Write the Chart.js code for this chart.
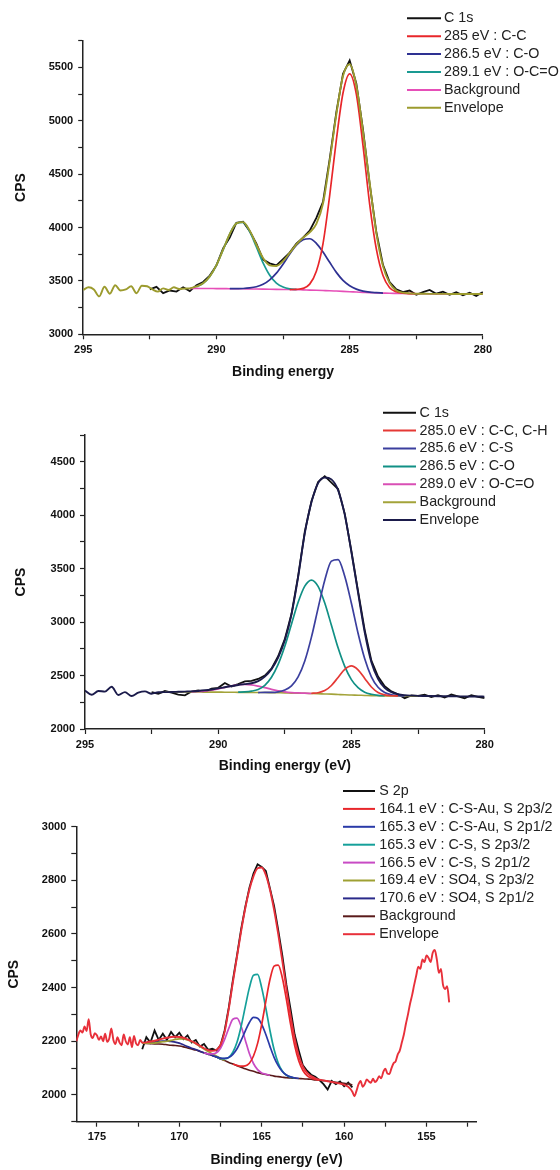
<!DOCTYPE html>
<html>
<head>
<meta charset="utf-8">
<script src="https://cdn.jsdelivr.net/npm/chart.js@4.4.1/dist/chart.umd.min.js"></script>
<style>
  html, body { margin: 0; padding: 0; background: #fff; }
  canvas { position: absolute; left: 0; }
</style>
</head>
<body>
<canvas id="c1s-a" width="560" height="385" style="top:0"></canvas>
<canvas id="c1s-b" width="560" height="390" style="top:385px"></canvas>
<canvas id="s2p" width="560" height="395" style="top:775px"></canvas>
<script>
// ---- panel 1 : C 1s ----
const p1GridX = [291, 290.75, 290.5, 290.25, 290, 289.75, 289.5, 289.25, 289, 288.75, 288.5, 288.25, 288, 287.75, 287.5, 287.25, 287, 286.75, 286.5, 286.25, 286, 285.75, 285.5, 285.25, 285, 284.75, 284.5, 284.25, 284, 283.75, 283.5, 283.25, 283, 282.75, 282.5, 282.25, 282, 281.75, 281.5, 281.25, 281, 280.75, 280.5, 280.25, 280];
const p1Envelope = [3430, 3448, 3478, 3542, 3648, 3792, 3939, 4039, 4051, 3971, 3839, 3714, 3645, 3640, 3685, 3762, 3842, 3905, 3955, 4035, 4225, 4620, 5060, 5420, 5530, 5330, 4900, 4420, 3950, 3640, 3480, 3410, 3390, 3383, 3380, 3380, 3379, 3379, 3379, 3378, 3378, 3378, 3378, 3378, 3378];
const p1Background = [3430, 3430, 3429, 3429, 3428, 3428, 3427, 3427, 3426, 3425, 3424, 3423, 3422, 3421, 3420, 3419, 3418, 3416, 3414, 3412, 3410, 3408, 3405, 3402, 3399, 3396, 3393, 3390, 3388, 3386, 3384, 3383, 3382, 3381, 3380, 3380, 3379, 3379, 3379, 3378, 3378, 3378, 3378, 3378, 3378];
const p1Teal = [3446, 3477, 3541, 3648, 3791, 3939, 4039, 4048, 3962, 3818, 3669, 3553, 3480, 3443, 3426, 3420];
const p1Blue = [3427, 3428, 3429, 3434, 3445, 3468, 3510, 3573, 3657, 3751, 3834, 3885, 3895, 3852, 3770, 3674, 3580, 3505, 3455, 3423, 3405, 3395, 3390, 3386];
const p1Red = [3419, 3421, 3430, 3470, 3590, 3850, 4300, 4820, 5260, 5440, 5250, 4770, 4220, 3800, 3550, 3436, 3398, 3386, 3381, 3380];
const p1EnvNoiseX = [295, 294.8, 294.6, 294.4, 294.2, 294, 293.8, 293.6, 293.4, 293.2, 293, 292.8, 292.6, 292.4, 292.2, 292, 291.8, 291.6, 291.4, 291.2];
const p1EnvNoise = [3415, 3440, 3420, 3355, 3445, 3380, 3460, 3410, 3420, 3450, 3385, 3455, 3450, 3420, 3400, 3430, 3415, 3440, 3425, 3428];
const p1RawX = [292.5, 292.25, 292, 291.75, 291.5, 291.25, 291, 290.75, 290.5, 290.25, 290, 289.75, 289.5, 289.25, 289, 288.75, 288.5, 288.25, 288, 287.75, 287.5, 287.25, 287, 286.75, 286.5, 286.25, 286, 285.75, 285.5, 285.25, 285, 284.75, 284.5, 284.25, 284, 283.75, 283.5, 283.25, 283, 282.75, 282.5, 282.25, 282, 281.75, 281.5, 281.25, 281, 280.75, 280.5, 280.25, 280];
const p1Raw = [3420, 3445, 3385, 3410, 3400, 3440, 3405, 3460, 3490, 3550, 3645, 3805, 3905, 4045, 4055, 3965, 3850, 3700, 3665, 3645, 3705, 3765, 3850, 3905, 3970, 4090, 4240, 4640, 5080, 5440, 5565, 5350, 4920, 4410, 3960, 3650, 3490, 3420, 3395, 3410, 3370, 3395, 3415, 3380, 3400, 3370, 3395, 3365, 3390, 3360, 3395];
const p1XTicks = [280, 282.5, 285, 287.5, 290, 292.5, 295];
const p1XLabels = [280, 285, 290, 295];
const p1YTicks = [3000, 3250, 3500, 3750, 4000, 4250, 4500, 4750, 5000, 5250, 5500, 5750];
const p1YLabels = [3000, 3500, 4000, 4500, 5000, 5500];

// ---- panel 2 : C 1s ----
const p2GridX = [292, 291.75, 291.5, 291.25, 291, 290.75, 290.5, 290.25, 290, 289.75, 289.5, 289.25, 289, 288.75, 288.5, 288.25, 288, 287.75, 287.5, 287.25, 287, 286.75, 286.5, 286.25, 286, 285.75, 285.5, 285.25, 285, 284.75, 284.5, 284.25, 284, 283.75, 283.5, 283.25, 283, 282.75, 282.5, 282.25, 282, 281.75, 281.5, 281.25, 281, 280.75, 280.5, 280.25, 280];
const p2Envelope = [2345, 2346, 2348, 2350, 2352, 2356, 2362, 2370, 2380, 2391, 2402, 2412, 2420, 2428, 2448, 2490, 2560, 2668, 2830, 3070, 3420, 3830, 4120, 4300, 4352, 4335, 4235, 4005, 3655, 3275, 2905, 2625, 2470, 2385, 2345, 2325, 2316, 2312, 2310, 2309, 2308, 2307, 2306, 2306, 2305, 2305, 2304, 2304, 2303];
const p2Background = [2348, 2348, 2347, 2347, 2346, 2346, 2345, 2345, 2345, 2344, 2344, 2343, 2343, 2342, 2341, 2341, 2340, 2339, 2338, 2336, 2335, 2334, 2332, 2330, 2328, 2326, 2323, 2320, 2318, 2316, 2314, 2312, 2311, 2310, 2309, 2308, 2308, 2307, 2307];
const p2Teal = [2345, 2347, 2354, 2370, 2409, 2484, 2604, 2774, 2980, 3185, 3336, 3393, 3334, 3178, 2970, 2759, 2586, 2462, 2386, 2344, 2325, 2315, 2311];
const p2Blue = [2341, 2342, 2342, 2347, 2364, 2403, 2487, 2636, 2859, 3131, 3392, 3570, 3585, 3428, 3176, 2895, 2656, 2488, 2390, 2341, 2320, 2311, 2309];
const p2Red = [2334, 2339, 2359, 2407, 2482, 2558, 2591, 2554, 2473, 2393, 2342, 2319, 2311, 2309];
const p2Magenta = [2348, 2351, 2355, 2364, 2376, 2390, 2404, 2414, 2418, 2413, 2401, 2387, 2371, 2358, 2348, 2341, 2337, 2335, 2332];
const p2EnvNoiseX = [295, 294.75, 294.5, 294.25, 294, 293.75, 293.5, 293.25, 293, 292.75, 292.5, 292.25];
const p2EnvNoise = [2360, 2320, 2355, 2350, 2395, 2318, 2345, 2308, 2340, 2352, 2330, 2344];
const p2RawX = [292.5, 292.25, 292, 291.75, 291.5, 291.25, 291, 290.75, 290.5, 290.25, 290, 289.75, 289.5, 289.25, 289, 288.75, 288.5, 288.25, 288, 287.75, 287.5, 287.25, 287, 286.75, 286.5, 286.25, 286, 285.75, 285.5, 285.25, 285, 284.75, 284.5, 284.25, 284, 283.75, 283.5, 283.25, 283, 282.75, 282.5, 282.25, 282, 281.75, 281.5, 281.25, 281, 280.75, 280.5, 280.25, 280];
const p2Raw = [2345, 2330, 2355, 2340, 2322, 2315, 2350, 2362, 2345, 2378, 2385, 2430, 2398, 2420, 2445, 2450, 2468, 2500, 2565, 2680, 2840, 3075, 3430, 3845, 4130, 4310, 4365, 4305, 4245, 4015, 3665, 3290, 2925, 2640, 2490, 2400, 2352, 2325, 2288, 2315, 2310, 2322, 2298, 2316, 2295, 2322, 2305, 2288, 2316, 2300, 2290];
const p2YTicks = [2000, 2250, 2500, 2750, 3000, 3250, 3500, 3750, 4000, 4250, 4500, 4750];
const p2YLabels = [2000, 2500, 3000, 3500, 4000, 4500];

// ---- panel 3 : S 2p ----
const p3GridX = [172.25, 172, 171.75, 171.5, 171.25, 171, 170.75, 170.5, 170.25, 170, 169.75, 169.5, 169.25, 169, 168.75, 168.5, 168.25, 168, 167.75, 167.5, 167.25, 167, 166.75, 166.5, 166.25, 166, 165.75, 165.5, 165.25, 165, 164.75, 164.5, 164.25, 164, 163.75, 163.5, 163.25, 163, 162.75, 162.5, 162.25, 162, 161.75, 161.5, 161.25, 161, 160.75, 160.5, 160.25, 160, 159.75, 159.5];
const p3Envelope = [2195, 2196, 2199, 2202, 2206, 2210, 2213, 2216, 2217, 2216, 2213, 2207, 2200, 2192, 2183, 2174, 2167, 2164, 2168, 2186, 2235, 2320, 2420, 2515, 2610, 2695, 2765, 2815, 2845, 2848, 2820, 2765, 2690, 2600, 2500, 2395, 2295, 2210, 2145, 2105, 2082, 2070, 2062, 2057, 2054, 2051, 2048, 2045, 2042, 2038, 2030, 2012];
const p3Background = [2193, 2192, 2191, 2190, 2190, 2189, 2187, 2185, 2184, 2182, 2179, 2175, 2171, 2167, 2162, 2157, 2152, 2147, 2141, 2134, 2128, 2121, 2115, 2109, 2103, 2097, 2092, 2088, 2083, 2079, 2076, 2073, 2070, 2068, 2066, 2064, 2063, 2062, 2061, 2060, 2059, 2058, 2056, 2055, 2053, 2052, 2049, 2047, 2045, 2043, 2041, 2038];
const p3Raw = [2170, 2215, 2195, 2240, 2205, 2228, 2205, 2235, 2215, 2232, 2208, 2222, 2195, 2205, 2180, 2190, 2168, 2172, 2165, 2185, 2240, 2325, 2428, 2520, 2618, 2700, 2772, 2825, 2860, 2850, 2835, 2770, 2705, 2615, 2520, 2410, 2320, 2225, 2165, 2110, 2090, 2075, 2068, 2055, 2040, 2020, 2052, 2040, 2050, 2032, 2046, 2028];
const p3Red = [2115, 2110, 2107, 2108, 2118, 2145, 2192, 2263, 2349, 2430, 2480, 2484, 2437, 2355, 2264, 2184, 2126, 2091, 2072, 2063, 2058, 2055];
const p3Blue = [2147, 2142, 2137, 2136, 2139, 2151, 2172, 2203, 2238, 2270, 2289, 2286, 2263, 2225, 2181, 2140, 2109, 2087, 2074, 2067, 2064, 2061];
const p3Teal = [2142, 2136, 2135, 2140, 2159, 2196, 2255, 2328, 2399, 2446, 2449, 2399, 2323, 2240, 2169, 2119, 2089, 2073, 2066, 2063];
const p3Magenta = [2157, 2153, 2153, 2157, 2174, 2207, 2248, 2282, 2286, 2256, 2205, 2154, 2117, 2094, 2082, 2077, 2073];
const p3Olive = [2193, 2193, 2193, 2193, 2196, 2198, 2200, 2203, 2207, 2209, 2209, 2205, 2199, 2191, 2181, 2171, 2162, 2153, 2145, 2136, 2129];
const p3Navy = [2195, 2195, 2196, 2197, 2200, 2201, 2201, 2199, 2197, 2193, 2187, 2180, 2174, 2169, 2163, 2157, 2152, 2147, 2141, 2134];
const p3EnvLeftX = [176.25, 176.125, 176, 175.875, 175.75, 175.625, 175.5, 175.375, 175.25, 175.125, 175, 174.875, 174.75, 174.625, 174.5, 174.375, 174.25, 174.125, 174, 173.875, 173.75, 173.625, 173.5, 173.375, 173.25, 173.125, 173, 172.875, 172.75, 172.625, 172.5, 172.375];
const p3EnvLeft = [2200, 2225, 2240, 2232, 2255, 2238, 2282, 2225, 2212, 2230, 2222, 2205, 2218, 2200, 2228, 2198, 2210, 2248, 2205, 2190, 2215, 2195, 2185, 2225, 2200, 2188, 2215, 2178, 2220, 2192, 2185, 2205];
const p3EnvRightX = [159.375, 159.25, 159.125, 159, 158.875, 158.75, 158.625, 158.5, 158.375, 158.25, 158.125, 158, 157.875, 157.75, 157.625, 157.5, 157.375, 157.25, 157.125, 157, 156.875, 156.75, 156.625, 156.5, 156.375, 156.25, 156.125, 156, 155.875, 155.75, 155.625, 155.5, 155.375, 155.25, 155.125, 155, 154.875, 154.75, 154.625, 154.5, 154.375, 154.25, 154.125, 154, 153.875, 153.75, 153.625];
const p3EnvRight = [1995, 2015, 2040, 2052, 2030, 2040, 2058, 2050, 2045, 2060, 2048, 2055, 2070, 2062, 2085, 2098, 2080, 2078, 2100, 2118, 2125, 2150, 2165, 2195, 2225, 2265, 2300, 2340, 2372, 2410, 2445, 2478, 2470, 2505, 2495, 2520, 2510, 2495, 2530, 2540, 2505, 2455, 2470, 2410, 2395, 2405, 2345];
const p3XTicks = [152.5, 155, 157.5, 160, 162.5, 165, 167.5, 170, 172.5, 175];
const p3XLabels = [155, 160, 165, 170, 175];
const p3YTicks = [1900, 2000, 2100, 2200, 2300, 2400, 2500, 2600, 2700, 2800, 2900, 3000];
const p3YLabels = [2000, 2200, 2400, 2600, 2800, 3000];

//-------------------------------------------------//

const FONT = 'Arial, "Liberation Sans", sans-serif';
Chart.defaults.font.family = FONT;
Chart.defaults.color = '#111';

// pair x grid with y values, starting at grid index `from`
function pts(xs, ys, from) {
    const start = from || 0;
    return ys.map((y, i) => ({x: xs[start + i], y: y}));
}

function series(label, data, color, width, order, smooth) {
    return {
        label: label,
        data: data,
        borderColor: color,
        backgroundColor: color,
        borderWidth: width,
        pointRadius: 0,
        fill: false,
        order: order,
        tension: 0,
        cubicInterpolationMode: smooth ? 'monotone' : 'default'
    };
}

// legend drawn inside the top right corner, like Origin does
const insetLegend = {
    id: 'insetLegend',
    afterDraw(chart, args, opts) {
        const ctx = chart.ctx;
        ctx.save();
        ctx.font = '14.3px ' + FONT;
        ctx.textBaseline = 'middle';
        chart.data.datasets.forEach((ds, i) => {
            const y = opts.top + i * opts.row;
            ctx.strokeStyle = ds.borderColor;
            ctx.lineWidth = 2;
            ctx.beginPath();
            ctx.moveTo(opts.x0, y);
            ctx.lineTo(opts.x1, y);
            ctx.stroke();
            ctx.fillStyle = '#222';
            ctx.fillText(ds.label, opts.textX, y);
        });
        ctx.restore();
    }
};

function buildScales(c) {
    const tickFont = {size: 11, weight: 'bold'};
    const titleFont = {size: 14, weight: 'bold'};
    const grid = {drawOnChartArea: false, drawTicks: true, tickLength: 5, tickWidth: 1.2, tickColor: '#222'};
    const border = {display: true, color: '#222', width: 1.5};
    return {
        x: {
            type: 'linear', position: 'bottom', reverse: true, bounds: 'data',
            min: c.xMin, max: c.xMax,
            afterBuildTicks: s => { s.ticks = c.xTicks.map(v => ({value: v})); },
            afterFit: s => { s.height = c.xHeight; },
            ticks: {autoSkip: false, maxRotation: 0, padding: 4, font: tickFont, color: '#111',
                    callback: v => c.xLabels.includes(v) ? String(v) : ''},
            grid: grid, border: border,
            title: {display: true, text: c.xTitle, font: titleFont, color: '#111',
                    padding: {top: 0, bottom: c.xTitlePad}}
        },
        y: {
            type: 'linear', position: 'left', bounds: 'data',
            min: c.yMin, max: c.yMax,
            afterBuildTicks: s => { s.ticks = c.yTicks.map(v => ({value: v})); },
            afterFit: s => { s.width = c.yWidth; },
            ticks: {autoSkip: false, padding: 5, font: tickFont, color: '#111',
                    callback: v => c.yLabels.includes(v) ? String(v) : ''},
            grid: grid, border: border,
            title: {display: true, text: 'CPS', font: titleFont, color: '#111',
                    padding: {top: c.yTitlePad, bottom: 0}}
        }
    };
}

function makeChart(id, datasets, scaleCfg, padding, legend) {
    return new Chart(document.getElementById(id), {
        type: 'line',
        data: {datasets: datasets},
        options: {
            responsive: false,
            animation: false,
            layout: {padding: padding},
            scales: buildScales(scaleCfg),
            plugins: {legend: {display: false}, tooltip: {enabled: false}, insetLegend: legend}
        },
        plugins: [insetLegend]
    });
}

makeChart('c1s-a', [
    series('C 1s', pts(p1RawX, p1Raw), '#111111', 1.8, 3, false),
    series('285 eV : C-C', pts(p1GridX, p1Red, 15), '#e8262a', 1.7, 1, true),
    series('286.5 eV : C-O', pts(p1GridX, p1Blue, 6), '#2e3192', 1.7, 1, true),
    series('289.1 eV : O-C=O', pts(p1GridX, p1Teal, 1), '#1a9a92', 1.7, 1, true),
    series('Background', pts(p1GridX, p1Background), '#e64fb8', 1.6, 2, true),
    series('Envelope', pts(p1EnvNoiseX, p1EnvNoise).concat(pts(p1GridX, p1Envelope)), '#9c9b2e', 1.9, 0, true)
], {
    xMin: 280, xMax: 295, xTicks: p1XTicks, xLabels: p1XLabels, xHeight: 50.7, xTitle: 'Binding energy', xTitlePad: 4.9,
    yMin: 3000, yMax: 5750, yTicks: p1YTicks, yLabels: p1YLabels, yWidth: 83.2, yTitlePad: 13
}, {top: 40.7, right: 77.1, bottom: 0, left: 0},
{x0: 407, x1: 441, textX: 444, top: 18.3, row: 17.9});

makeChart('c1s-b', [
    series('C 1s', pts(p2RawX, p2Raw), '#111111', 1.8, 3, false),
    series('285.0 eV : C-C, C-H', pts(p2GridX, p2Red, 22), '#e53935', 1.7, 1, true),
    series('285.6 eV : C-S', pts(p2GridX, p2Blue, 14), '#3b3f9e', 1.7, 1, true),
    series('286.5 eV : C-O', pts(p2GridX, p2Teal, 11), '#119085', 1.7, 1, true),
    series('289.0 eV : O-C=O', pts(p2GridX, p2Magenta, 4), '#d94fb5', 1.7, 1, true),
    series('Background', pts(p2GridX, p2Background), '#a3a33a', 1.6, 2, true),
    series('Envelope', pts(p2EnvNoiseX, p2EnvNoise).concat(pts(p2GridX, p2Envelope)), '#1b1b4b', 1.9, 0, true)
], {
    xMin: 280, xMax: 295, xTicks: p1XTicks, xLabels: p1XLabels, xHeight: 46, xTitle: 'Binding energy (eV)', xTitlePad: 0,
    yMin: 2000, yMax: 4750, yTicks: p2YTicks, yLabels: p2YLabels, yWidth: 85, yTitlePad: 13
}, {top: 50, right: 75.4, bottom: 0, left: 0},
{x0: 383, x1: 416, textX: 419.6, top: 27.7, row: 17.9});

makeChart('s2p', [
    series('S 2p', pts(p3GridX, p3Raw), '#111111', 1.8, 3, false),
    series('164.1 eV : C-S-Au, S 2p3/2', pts(p3GridX, p3Red, 22), '#e8262b', 1.7, 1, true),
    series('165.3 eV : C-S-Au, S 2p1/2', pts(p3GridX, p3Blue, 17), '#2a3aa8', 1.7, 1, true),
    series('165.3 eV : C-S, S 2p3/2', pts(p3GridX, p3Teal, 18), '#15a09a', 1.7, 1, true),
    series('166.5 eV : C-S, S 2p1/2', pts(p3GridX, p3Magenta, 15), '#c84bc4', 1.7, 1, true),
    series('169.4 eV : SO4, S 2p3/2', pts(p3GridX, p3Olive), '#9ea033', 1.7, 1, true),
    series('170.6 eV : SO4, S 2p1/2', pts(p3GridX, p3Navy), '#2a2a8a', 1.7, 1, true),
    series('Background', pts(p3GridX, p3Background), '#5a1a1a', 1.6, 2, true),
    series('Envelope', pts(p3EnvLeftX, p3EnvLeft).concat(pts(p3GridX, p3Envelope), pts(p3EnvRightX, p3EnvRight)), '#e8303a', 1.9, 0, true)
], {
    xMin: 151.95, xMax: 176.25, xTicks: p3XTicks, xLabels: p3XLabels, xHeight: 48.3, xTitle: 'Binding energy (eV)', xTitlePad: 1.6,
    yMin: 1900, yMax: 3000, yTicks: p3YTicks, yLabels: p3YLabels, yWidth: 76.3, yTitlePad: 6
}, {top: 51.7, right: 83.2, bottom: 0, left: 0},
{x0: 343, x1: 375, textX: 379.3, top: 16, row: 17.9});
</script>
</body>
</html>
